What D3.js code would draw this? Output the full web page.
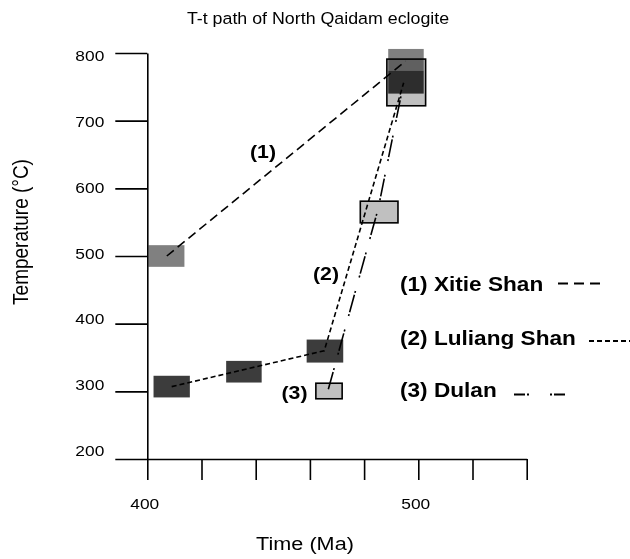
<!DOCTYPE html>
<html><head><meta charset="utf-8">
<script src="https://cdn.jsdelivr.net/npm/d3@7"></script>
<style>
body{margin:0;background:#fff;}
svg{display:block;font-family:Arial,"Liberation Sans",Helvetica,sans-serif;}
</style></head>
<body><svg id="c" width="630" height="559"></svg>
<script>
// ---- data ----
const timeTicks = [400, 420, 440, 460, 480, 500, 520, 540];
const timeLabels = [400, 500];
const tempTicks = [200, 300, 400, 500, 600, 700, 800];
// boxes: [tMin, tMax, TMin, TMax]
const xitieBoxes   = [[400.4, 413.7, 484, 516], [488.9, 502.0, 774, 806]];
const luliangBoxes = [[402.3, 415.7, 291, 323], [429.1, 442.2, 313, 345], [458.8, 472.3, 342.5, 376.5], [488.9, 502.0, 740, 774]];
const dulanBoxes   = [[462.2, 471.9, 289, 312], [478.6, 492.5, 549, 581], [488.4, 502.7, 722, 791]];
// paths: [time, temp]
const xitiePath   = [[407.2, 500], [495.3, 788]];
const luliangPath = [[409.0, 307], [465.3, 360], [494.6, 756]];
const dulanPath   = [[466.8, 303], [485.2, 570], [494.6, 756]];
const seriesNames = ["(1) Xitie Shan", "(2) Luliang Shan", "(3) Dulan"];
const pathLabels = ["(1)", "(2)", "(3)"];

// ---- drawing ----
const svg = d3.select("#c");
const x = d3.scaleLinear().domain([400, 540]).range([147.3, 526.7]);
const y = d3.scaleLinear().domain([200, 800]).range([459, 53]);
const SX = 1.12;

function stext(g, px, py, str, size, weight, sx, anchor, extra) {
  return g.append("text")
    .attr("transform", `translate(${px},${py}) scale(${sx},1)` + (extra || ""))
    .attr("text-anchor", anchor || "start")
    .attr("font-size", size).attr("font-weight", weight || "normal")
    .attr("fill", "#000").text(str);
}

// title
stext(svg, 318, 24, "T-t path of North Qaidam eclogite", 16.5, "normal", 1.08, "middle");

// y axis
const gy = svg.append("g").attr("transform", "translate(147.3,0)")
  .call(d3.axisLeft(y).tickValues(tempTicks).tickSize(32).tickSizeOuter(0).tickFormat(d3.format("d")));
gy.selectAll("text").attr("x", null).attr("dy", null)
  .attr("font-size", 15.5).attr("font-family", "Arial, Liberation Sans, sans-serif")
  .attr("text-anchor", "end")
  .attr("transform", d => `translate(-43,${2 - (800 - d) / 600 * 11 + 5.5}) scale(${SX},1)`);

// x axis
const gx = svg.append("g").attr("transform", "translate(0,459)")
  .call(d3.axisBottom(x).tickValues(timeTicks).tickSize(21).tickSizeOuter(0)
    .tickFormat(d => timeLabels.includes(d) ? String(d) : ""));
gx.selectAll("text").attr("y", null).attr("dy", null)
  .attr("font-size", 15.5).attr("font-family", "Arial, Liberation Sans, sans-serif")
  .attr("text-anchor", "middle")
  .attr("transform", `translate(-3,50) scale(${SX},1)`);

[gx, gy].forEach(g => {
  g.selectAll("path.domain").attr("stroke", "#000").attr("stroke-width", 1.6);
  g.selectAll(".tick line").attr("stroke", "#000").attr("stroke-width", 1.6);
});

// axis titles
stext(svg, 305, 550, "Time (Ma)", 18.5, "normal", 1.17, "middle");
stext(svg, 27.5, 232, "Temperature (°C)", 19, "normal", 1.15, "middle", " rotate(-90)");

// boxes
const gb = svg.append("g");
function boxes(data, fill, stroke, blend) {
  gb.selectAll(null).data(data).enter().append("rect")
    .attr("x", d => x(d[0])).attr("width", d => x(d[1]) - x(d[0]))
    .attr("y", d => y(d[3])).attr("height", d => y(d[2]) - y(d[3]))
    .attr("fill", fill)
    .attr("stroke", stroke || "none").attr("stroke-width", stroke ? 1.6 : 0)
    .style("mix-blend-mode", blend || "normal");
}
boxes(dulanBoxes, "#c0c0c0", "#000");
boxes(xitieBoxes, "#808080", null, "multiply");
boxes(luliangBoxes, "#3c3c3c", null, "multiply");

// paths
const line = d3.line().x(d => x(d[0])).y(d => y(d[1]));
const styles = [
  {data: xitiePath, dash: "9,5"},
  {data: luliangPath, dash: "5,3"},
  {data: dulanPath, dash: "18,2,2,14,2,2"}
];
styles.forEach(s => {
  svg.append("path").attr("d", line(s.data)).attr("fill", "none")
    .attr("stroke", "#000").attr("stroke-width", 1.6).attr("stroke-dasharray", s.dash);
});

// path labels
stext(svg, 250, 158, pathLabels[0], 19, "bold", 1.12, "start");
stext(svg, 313, 280, pathLabels[1], 19, "bold", 1.12, "start");
stext(svg, 281.5, 399, pathLabels[2], 19, "bold", 1.12, "start");

// legend
const legY = [291, 345, 397];
const legLine = [[558, 600, 283.5], [589, 632, 341], [514, 565, 394.5]];
seriesNames.forEach((n, i) => {
  stext(svg, 400, legY[i], n, 19.5, "bold", 1.16, "start");
  const L = legLine[i];
  svg.append("line").attr("x1", L[0]).attr("x2", L[1]).attr("y1", L[2]).attr("y2", L[2])
    .attr("stroke", "#000").attr("stroke-width", 1.8)
    .attr("stroke-dasharray", i === 0 ? "10,6" : i === 1 ? "5,3" : "11,2,2,21,2,2");
});
</script></body></html>
